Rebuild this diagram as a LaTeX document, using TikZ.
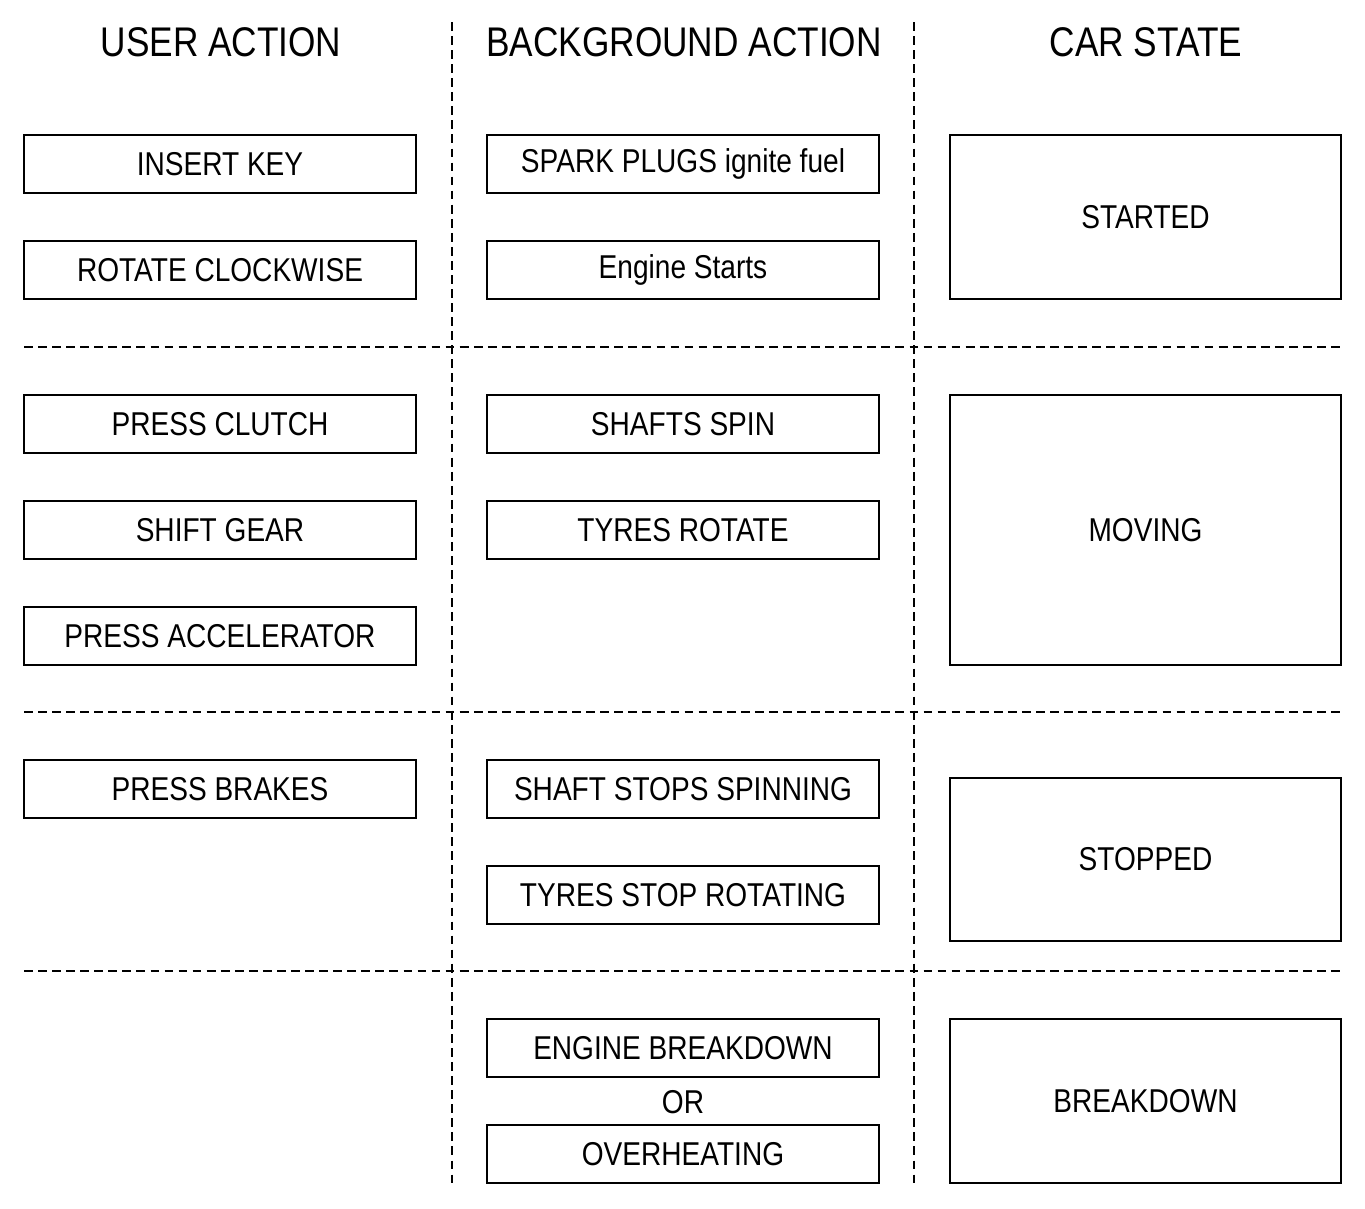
\documentclass[tikz,border=0pt]{standalone}
\usepackage{fontspec}
\setmainfont[FakeStretch=0.85]{Liberation Sans}
\begin{document}
\begin{tikzpicture}[x=0.02cm, y=-0.02cm]
    \useasboundingbox (0,0) rectangle (1365,1208);

    % column headings
    \begin{scope}[every node/.style={font=\fontsize{23.6}{28}\selectfont, inner sep=0pt}]
        \node (hUser) at (221,42) {USER ACTION};
        \node (hBack) at (684,42) {BACKGROUND ACTION};
        \node (hCar) at (1146,42) {CAR STATE};
    \end{scope}

    % dividers
    \begin{scope}[every path/.style={draw, line width=0.8pt, dash pattern=on 5pt off 3pt}]
        \path (452,22) -- (452,1183);
        \path (914,22) -- (914,1183);
        \path (24,347) -- (1341,347);
        \path (24,712) -- (1341,712);
        \path (24,971) -- (1341,971);
    \end{scope}

    % user and background actions
    \begin{scope}[every node/.style={rectangle, draw, line width=1.1pt, minimum width=7.84cm, minimum height=1.16cm, inner sep=0pt, font=\fontsize{18.8}{22}\selectfont}]
        \node (u1) at (220,164) {INSERT KEY};
        \node (u2) at (220,270) {ROTATE CLOCKWISE};
        \node (u3) at (220,424) {PRESS CLUTCH};
        \node (u4) at (220,530) {SHIFT GEAR};
        \node (u5) at (220,636) {PRESS ACCELERATOR};
        \node (u6) at (220,789) {PRESS BRAKES};

        \node (b1) at (683,164) {SPARK PLUGS ignite fuel};
        \node (b2) at (683,270) {Engine Starts};
        \node (b3) at (683,424) {SHAFTS SPIN};
        \node (b4) at (683,530) {TYRES ROTATE};
        \node (b5) at (683,789) {SHAFT STOPS SPINNING};
        \node (b6) at (683,895) {TYRES STOP ROTATING};
        \node (b7) at (683,1048) {ENGINE BREAKDOWN};
        \node (b8) at (683,1154) {OVERHEATING};
    \end{scope}
    \node[font=\fontsize{18.8}{22}\selectfont, inner sep=0pt] (or) at (683,1102) {OR};

    % car states
    \begin{scope}[every node/.style={rectangle, draw, line width=1.1pt, minimum width=7.82cm, inner sep=0pt, font=\fontsize{18.8}{22}\selectfont}]
        \node[minimum height=3.28cm] (s1) at (1145.5,217) {STARTED};
        \node[minimum height=5.40cm] (s2) at (1145.5,530) {MOVING};
        \node[minimum height=3.26cm] (s3) at (1145.5,859.5) {STOPPED};
        \node[minimum height=3.28cm] (s4) at (1145.5,1101) {BREAKDOWN};
    \end{scope}
\end{tikzpicture}
\end{document}
